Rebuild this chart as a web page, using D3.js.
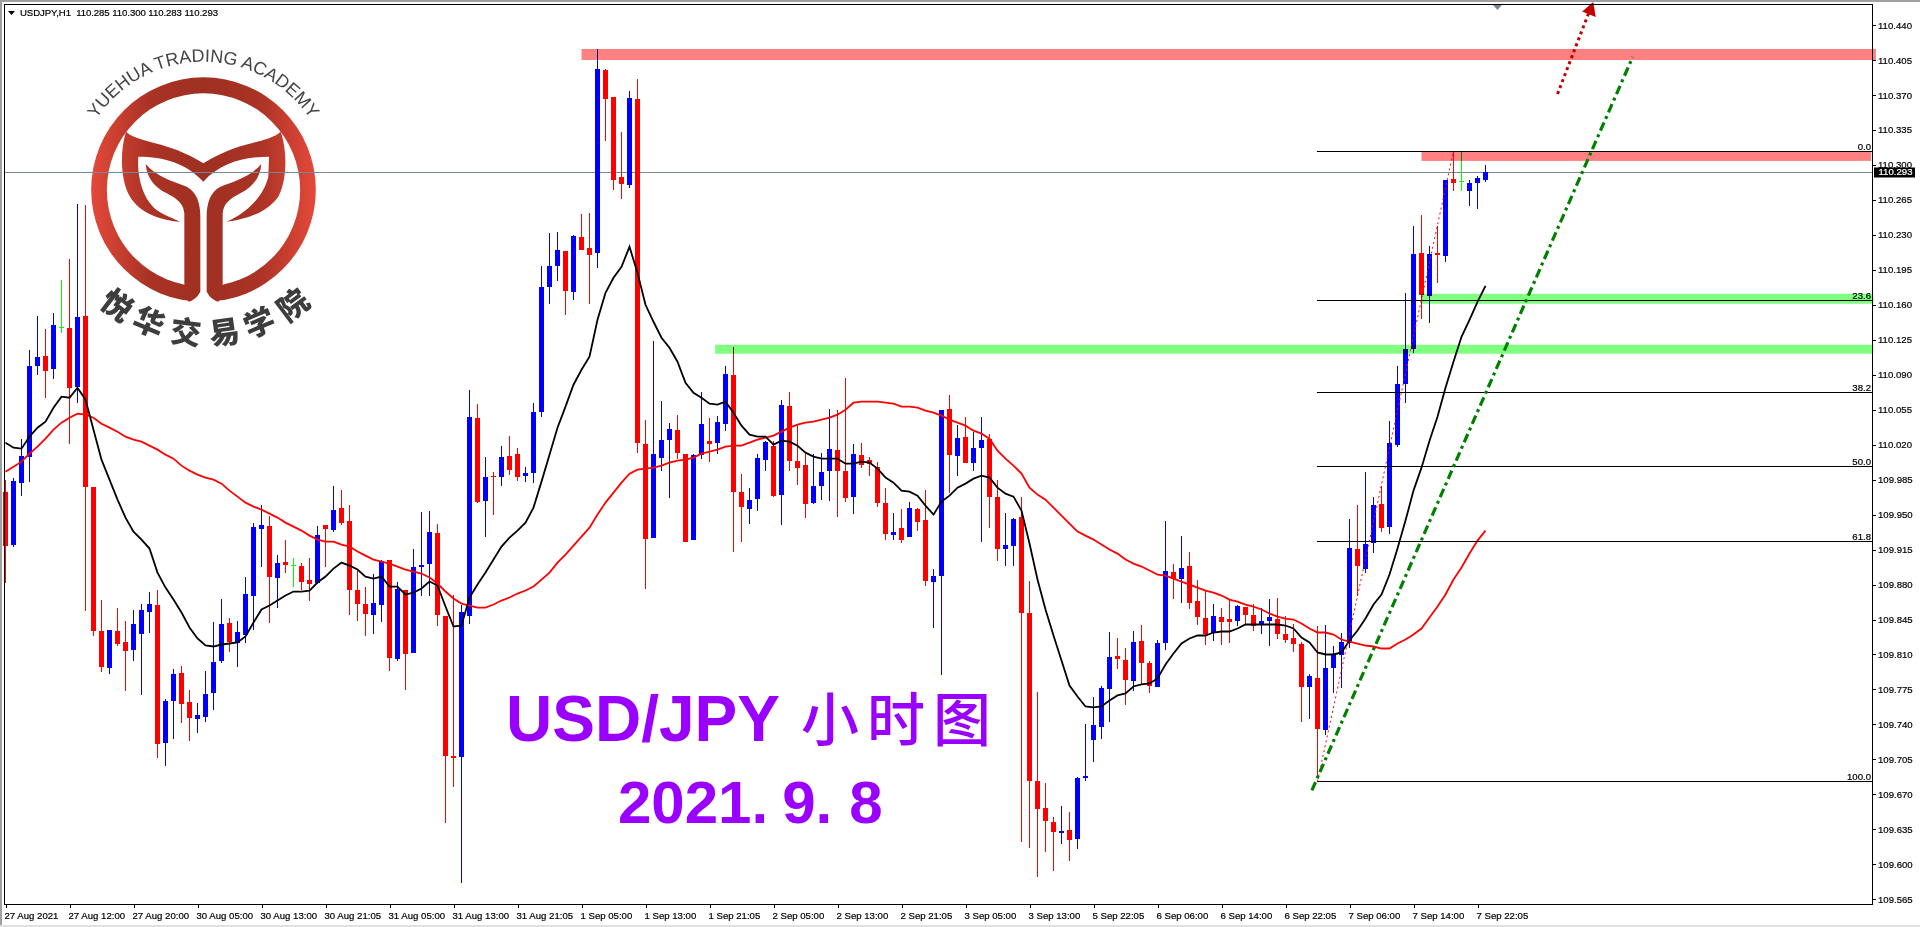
<!doctype html>
<html>
<head>
<meta charset="UTF-8">
<title>USDJPY H1</title>
<script src="https://d3js.org/d3.v7.min.js"></script>
<style>
  html, body { margin: 0; padding: 0; background: #fff; overflow: hidden; }
  svg { display: block; }
  .small { font-family: "Liberation Sans", sans-serif; font-size: 9.6px; fill: #000; stroke: #000; stroke-width: 0.2px; }
  .axis text { font-family: "Liberation Sans", sans-serif; font-size: 9.6px; fill: #000; stroke: #000; stroke-width: 0.2px; }
  .axis line { stroke: #000; shape-rendering: crispEdges; }
</style>
</head>
<body>
<svg id="chart" width="1920" height="927"></svg>
<script>
// price data, one entry per hourly bar
var opens = [109.973,109.920,109.982,110.008,110.099,110.109,110.096,110.138,110.137,110.078,110.149,109.978,109.834,109.796,109.834,109.823,109.814,109.831,109.853,109.860,
109.721,109.763,109.791,109.762,109.745,109.747,109.771,109.803,109.842,109.822,109.830,109.869,109.936,109.939,109.887,109.903,109.900,109.899,109.885,109.882,
109.940,109.935,109.957,109.944,109.875,109.861,109.850,109.860,109.905,109.805,109.875,109.811,109.898,109.901,109.932,109.849,109.708,109.707,109.849,110.047,
109.964,109.989,109.988,110.009,110.011,109.989,109.992,110.053,110.178,110.199,110.214,110.173,110.228,110.217,110.212,110.395,110.368,110.288,110.280,110.366,
110.021,109.927,110.007,110.025,110.035,110.011,109.925,110.010,110.024,110.022,110.041,110.090,109.973,109.956,109.966,110.005,110.019,109.970,110.059,110.004,
110.000,109.962,109.979,109.994,110.015,109.994,109.968,110.010,110.005,109.998,109.962,109.930,109.937,109.928,109.956,109.945,109.883,109.889,110.056,110.009,
110.028,110.002,110.017,110.026,109.968,109.916,109.919,109.948,109.852,109.683,109.656,109.642,109.631,109.634,109.625,109.686,109.724,109.737,109.775,109.808,
109.804,109.783,109.824,109.801,109.777,109.822,109.893,109.886,109.899,109.864,109.847,109.832,109.848,109.846,109.844,109.858,109.850,109.840,109.844,109.846,
109.831,109.827,109.821,109.777,109.786,109.734,109.796,109.809,109.822,109.916,109.896,109.922,109.961,109.938,110.020,110.081,110.116,110.212,110.169,110.212,
110.209,110.286,110.284,110.274,110.282,110.285];
var highs = [109.985,109.987,110.026,110.115,110.149,110.136,110.152,110.185,110.206,110.261,110.260,109.978,109.865,109.835,109.857,109.844,109.855,109.861,109.873,109.875,
109.765,109.795,109.798,109.774,109.761,109.793,109.843,109.866,109.847,109.844,109.888,109.942,109.960,109.949,109.910,109.925,109.907,109.902,109.907,109.939,
109.940,109.979,109.975,109.960,109.895,109.878,109.891,109.905,109.905,109.883,109.875,109.916,109.953,109.954,109.941,109.849,109.870,109.860,110.075,110.061,
110.008,109.993,110.019,110.029,110.017,109.998,110.062,110.199,110.232,110.233,110.214,110.230,110.251,110.252,110.416,110.396,110.368,110.333,110.374,110.386,
110.045,110.124,110.064,110.042,110.050,110.011,110.011,110.073,110.047,110.049,110.099,110.118,109.991,109.977,110.011,110.024,110.024,110.065,110.073,110.040,
110.011,110.011,110.012,110.056,110.055,110.087,110.021,110.022,110.008,110.003,109.977,109.952,109.956,109.963,109.957,109.975,109.896,110.055,110.070,110.040,
110.048,110.033,110.048,110.031,109.985,109.952,109.947,109.968,109.884,109.772,109.681,109.647,109.658,109.652,109.687,109.740,109.767,109.778,109.833,109.827,
109.817,109.834,109.840,109.803,109.825,109.944,109.901,109.929,109.913,109.885,109.874,109.861,109.857,109.865,109.860,109.858,109.861,109.857,109.866,109.867,
109.849,109.841,109.823,109.790,109.839,109.840,109.819,109.832,109.946,109.960,109.993,109.968,109.979,110.044,110.099,110.172,110.239,110.250,110.219,110.239,
110.285,110.313,110.313,110.285,110.289,110.300];
var lows = [109.882,109.918,109.969,109.983,110.090,110.067,110.086,110.132,110.021,110.062,109.854,109.829,109.792,109.790,109.819,109.773,109.803,109.769,109.832,109.706,
109.698,109.725,109.741,109.723,109.731,109.742,109.754,109.801,109.812,109.797,109.822,109.835,109.898,109.842,109.857,109.892,109.878,109.875,109.864,109.881,
109.898,109.933,109.940,109.850,109.844,109.829,109.831,109.843,109.793,109.803,109.774,109.811,109.869,109.869,109.839,109.641,109.677,109.581,109.841,109.962,
109.928,109.950,109.979,109.990,109.984,109.983,109.982,110.048,110.161,110.184,110.150,110.165,110.215,110.161,110.197,110.324,110.275,110.266,110.277,110.012,
109.876,109.927,109.994,109.967,110.006,109.923,109.925,110.006,110.003,110.011,110.034,109.913,109.923,109.941,109.954,109.994,109.968,109.940,109.994,109.980,
109.947,109.961,109.965,109.964,109.948,109.963,109.951,109.997,109.989,109.958,109.925,109.925,109.922,109.928,109.934,109.879,109.837,109.789,109.972,109.989,
110.002,109.994,109.923,109.937,109.904,109.899,109.899,109.622,109.616,109.587,109.612,109.593,109.620,109.603,109.615,109.683,109.702,109.725,109.742,109.795,
109.759,109.773,109.780,109.771,109.777,109.814,109.866,109.862,109.856,109.840,109.820,109.824,109.820,109.822,109.839,109.841,109.834,109.831,109.819,109.826,
109.822,109.812,109.742,109.745,109.688,109.729,109.771,109.776,109.817,109.869,109.892,109.912,109.933,109.931,110.018,110.062,110.112,110.146,110.142,110.182,
110.203,110.274,110.274,110.259,110.256,110.283];
var closes = [109.919,109.984,110.009,110.099,110.108,110.094,110.140,110.138,110.077,110.148,109.978,109.834,109.797,109.835,109.821,109.813,109.841,109.855,109.861,109.720,
109.763,109.790,109.760,109.746,109.749,109.770,109.802,109.841,109.823,109.833,109.871,109.938,109.940,109.888,109.902,109.900,109.900,109.883,109.881,109.930,
109.936,109.955,109.942,109.875,109.861,109.851,109.862,109.904,109.806,109.876,109.810,109.898,109.900,109.933,109.850,109.708,109.706,109.853,110.048,109.963,
109.988,109.988,110.008,109.995,109.988,109.992,110.053,110.178,110.199,110.215,110.174,110.229,110.215,110.210,110.396,110.366,110.285,110.281,110.367,110.022,
109.926,110.011,110.025,110.036,110.012,109.923,110.010,110.041,110.021,110.043,110.091,109.973,109.958,109.965,110.007,110.023,109.969,110.060,110.004,109.997,
109.961,109.979,109.993,110.016,109.994,109.967,110.011,110.000,110.001,109.962,109.931,109.933,109.925,109.957,109.943,109.884,109.889,110.055,110.010,110.027,
110.002,110.017,110.025,109.968,109.916,109.920,109.946,109.852,109.683,109.655,109.643,109.632,109.633,109.624,109.686,109.688,109.739,109.776,109.807,109.805,
109.784,109.823,109.801,109.778,109.822,109.894,109.886,109.897,109.862,109.848,109.831,109.849,109.843,109.843,109.859,109.850,109.839,109.844,109.848,109.831,
109.825,109.821,109.777,109.788,109.735,109.796,109.810,109.823,109.917,109.899,109.921,109.960,109.937,110.022,110.081,110.116,110.211,110.170,110.211,110.210,
110.285,110.282,110.284,110.282,110.287,110.293];

// the two moving averages
var maBlack = [110.022,110.017,110.016,110.028,110.037,110.043,110.057,110.068,110.067,110.077,110.065,110.035,110.005,109.985,109.965,109.947,109.933,109.925,109.916,109.892,
109.877,109.865,109.852,109.837,109.826,109.819,109.818,109.820,109.821,109.822,109.828,109.842,109.855,109.859,109.864,109.869,109.873,109.873,109.874,109.882,
109.888,109.896,109.902,109.899,109.895,109.888,109.886,109.888,109.878,109.878,109.870,109.872,109.876,109.883,109.879,109.858,109.838,109.839,109.867,109.880,
109.892,109.905,109.918,109.927,109.934,109.942,109.957,109.983,110.010,110.037,110.058,110.080,110.095,110.108,110.145,110.172,110.187,110.198,110.218,110.192,
110.160,110.143,110.127,110.117,110.103,110.082,110.072,110.067,110.061,110.060,110.063,110.052,110.039,110.030,110.028,110.028,110.020,110.024,110.023,110.019,
110.012,110.008,110.006,110.006,110.006,110.001,110.001,110.003,110.002,109.996,109.987,109.982,109.974,109.973,109.969,109.959,109.950,109.963,109.969,109.977,
109.981,109.986,109.989,109.987,109.977,109.971,109.968,109.954,109.921,109.885,109.855,109.829,109.804,109.779,109.768,109.758,109.757,109.758,109.764,109.769,
109.771,109.778,109.780,109.781,109.786,109.800,109.811,109.821,109.826,109.829,109.829,109.832,109.833,109.833,109.836,109.840,109.840,109.840,109.840,109.840,
109.839,109.836,109.827,109.822,109.812,109.810,109.810,109.812,109.824,109.834,109.846,109.860,109.870,109.890,109.916,109.944,109.974,109.997,110.024,110.048,
110.077,110.103,110.128,110.145,110.163,110.179];
var maRed = [109.993,109.998,110.003,110.011,110.018,110.026,110.035,110.042,110.047,110.051,110.050,110.047,110.041,110.037,110.033,110.028,110.025,110.023,110.019,110.015,
110.010,110.006,109.999,109.994,109.990,109.987,109.985,109.981,109.974,109.968,109.962,109.958,109.955,109.951,109.947,109.942,109.938,109.934,109.929,109.925,
109.923,109.923,109.920,109.918,109.913,109.909,109.905,109.903,109.901,109.898,109.895,109.893,109.891,109.887,109.881,109.873,109.866,109.861,109.859,109.857,
109.857,109.860,109.864,109.867,109.871,109.874,109.878,109.885,109.892,109.902,109.910,109.919,109.928,109.937,109.950,109.962,109.972,109.982,109.991,109.995,
109.996,109.997,109.999,110.002,110.004,110.005,110.007,110.011,110.013,110.015,110.018,110.019,110.019,110.022,110.025,110.027,110.029,110.033,110.037,110.040,
110.042,110.043,110.045,110.047,110.050,110.055,110.062,110.063,110.063,110.063,110.062,110.061,110.058,110.058,110.057,110.054,110.052,110.049,110.045,110.042,
110.039,110.034,110.031,110.026,110.014,110.006,109.999,109.991,109.977,109.970,109.965,109.957,109.949,109.941,109.933,109.929,109.925,109.920,109.915,109.911,
109.905,109.901,109.898,109.894,109.890,109.889,109.886,109.883,109.880,109.877,109.874,109.872,109.869,109.865,109.863,109.860,109.858,109.855,109.851,109.848,
109.846,109.845,109.841,109.836,109.832,109.832,109.830,109.825,109.823,109.821,109.819,109.818,109.816,109.816,109.821,109.825,109.830,109.836,109.847,109.858,
109.870,109.885,109.897,109.911,109.924,109.934];

// axis labels
var yTicks = [110.440,110.405,110.370,110.335,110.300,110.265,110.230,110.195,110.160,110.125,110.090,110.055,110.020,
  109.985,109.950,109.915,109.880,109.845,109.810,109.775,109.740,109.705,109.670,109.635,109.600,109.565];
var xTickBars = [0,8,16,24,32,40,48,56,64,72,80,88,96,104,112,120,128,136,144,152,160,168,176,184];
var xTickLabels = ["27 Aug 2021","27 Aug 12:00","27 Aug 20:00","30 Aug 05:00","30 Aug 13:00","30 Aug 21:05","31 Aug 05:00","31 Aug 13:00",
  "31 Aug 21:05","1 Sep 05:00","1 Sep 13:00","1 Sep 21:05","2 Sep 05:00","2 Sep 13:00","2 Sep 21:05","3 Sep 05:00","3 Sep 13:00",
  "5 Sep 22:05","6 Sep 06:00","6 Sep 14:00","6 Sep 22:05","7 Sep 06:00","7 Sep 14:00","7 Sep 22:05"];

// hand drawn objects on the chart: bar from, bar to, price top, price bottom, colour
var zoneFrom = [72, 177, 88.7, 177];
var zoneTo = [233.8, 233.2, 233.5, 233.5];
var zoneTop = [110.416, 110.313, 110.120, 110.171];
var zoneBottom = [110.405, 110.304, 110.111, 110.161];
var zoneColor = ["#ff8080", "#ff8080", "#80ff80", "#80ff80"];

var fibHigh = 110.314, fibLow = 109.683, fibFromBar = 164, fibToBar = 181;
var fibLevels = [0, 23.6, 38.2, 50, 61.8, 100];
var fibNames = ["0.0", "23.6", "38.2", "50.0", "61.8", "100.0"];

var trendBars = [163.3, 203.4], trendPrices = [109.674, 110.408];
var arrowBars = [194, 197.9], arrowPrices = [110.371, 110.452];
var lastPrice = 110.293;

var svg = d3.select("#chart");
var x = d3.scaleLinear().domain([0, 185]).range([5.5, 1485.5]);
var y = d3.scaleLinear().domain([110.440, 109.565]).range([25, 899.3]);
var plotLeft = 4.5, plotTop = 4.5, plotRight = 1872.5, plotBottom = 904.5;

// window frame
svg.append("rect").attr("width", 1920).attr("height", 2).attr("fill", "#a0a0a0");
svg.append("rect").attr("width", 2).attr("height", 925).attr("fill", "#a0a0a0");
svg.append("rect").attr("y", 925).attr("width", 1920).attr("height", 2).attr("fill", "#e0e0e0");

// logo is drawn in 3x coordinates
var defs = svg.append("defs");
var grad = defs.append("linearGradient").attr("id", "logoGrad").attr("gradientUnits", "userSpaceOnUse")
  .attr("x1", 274).attr("y1", 0).attr("x2", 947).attr("y2", 0);
grad.append("stop").attr("offset", "0").attr("stop-color", "#e4493a");
grad.append("stop").attr("offset", "0.25").attr("stop-color", "#ab3325");
grad.append("stop").attr("offset", "0.5").attr("stop-color", "#9e3022");
grad.append("stop").attr("offset", "0.75").attr("stop-color", "#ab3325");
grad.append("stop").attr("offset", "1").attr("stop-color", "#e4493a");
defs.append("path").attr("id", "logoArc").attr("d", "M225,570 A385,385 0 0 1 995,570");

var tail = "M378,395 C420,432 500,420 610,490 C720,420 800,432 842,395 C862,450 862,540 835,590 C800,640 730,660 680,665 " +
  "C740,640 790,590 805,530 L807,470 C730,470 660,490 610,545 C560,490 490,470 415,470 C410,530 430,600 470,630 C490,645 520,655 540,665 " +
  "C480,660 420,640 390,590 C360,540 360,450 378,395 Z";
var stemL = "M437,492 C470,530 520,545 560,560 C590,575 601,610 601,650 L601,875 Q588,900 565,905 L553,853 L553,640 C550,610 530,595 500,580 C460,560 440,530 437,492 Z";
var stemR = "M784,492 C751,530 701,545 661,560 C631,575 620,610 620,650 L620,875 Q633,900 656,905 L668,853 L668,640 C671,610 691,595 721,580 C761,560 781,530 784,492 Z";

var logo = svg.append("g").attr("transform", "scale(0.33333)");
logo.append("circle").attr("cx", 610.5).attr("cy", 569).attr("r", 337).attr("fill", "url(#logoGrad)");
logo.append("circle").attr("cx", 610.5).attr("cy", 570).attr("r", 290).attr("fill", "#fff");
logo.append("rect").attr("x", 565).attr("y", 853).attr("width", 91).attr("height", 60).attr("fill", "#fff");
logo.append("path").attr("d", tail).attr("fill", "url(#logoGrad)");
logo.append("path").attr("d", stemL).attr("fill", "url(#logoGrad)");
logo.append("path").attr("d", stemR).attr("fill", "url(#logoGrad)");
logo.append("text").attr("font-family", "Liberation Sans").attr("font-size", 54).attr("fill", "#444")
  .append("textPath").attr("href", "#logoArc").attr("startOffset", "50%").attr("text-anchor", "middle")
  .text("YUEHUA TRADING ACADEMY");
var logoChars = ["悦", "华", "交", "易", "学", "院"];
var logoCharX = [355, 450, 558, 672, 775, 875];
var logoCharY = [910, 960, 990, 990, 962, 910];
var logoCharA = [37, 23, 7, -8, -23, -37];
logoChars.forEach(function(c, i) {
  logo.append("text").text(c)
    .attr("transform", "translate(" + logoCharX[i] + "," + logoCharY[i] + ") rotate(" + logoCharA[i] + ")")
    .attr("text-anchor", "middle").attr("dominant-baseline", "central")
    .attr("font-family", "Noto Sans CJK SC").attr("font-weight", 900).attr("font-size", 92).attr("fill", "#3d3d3d");
});

// last price line sits behind the bars
svg.append("line").attr("x1", plotLeft).attr("x2", plotRight).attr("y1", Math.round(y(lastPrice)) + 0.5).attr("y2", Math.round(y(lastPrice)) + 0.5)
  .attr("stroke", "#778899").attr("stroke-width", 1).attr("shape-rendering", "crispEdges");

// candles
var bars = d3.range(opens.length);
function barColor(i) {
  if (closes[i] > opens[i]) return "#0000ff";
  if (closes[i] < opens[i]) return "#ff0000";
  return "#00ff00";
}
var candle = svg.append("g").attr("shape-rendering", "crispEdges");
candle.selectAll(".wick").data(bars).enter().append("rect").attr("class", "wick")
  .attr("x", function(i) { return x(i) - 0.5; })
  .attr("width", 1)
  .attr("y", function(i) { return Math.round(y(highs[i])); })
  .attr("height", function(i) { return Math.max(1, Math.round(y(lows[i])) - Math.round(y(highs[i]))); })
  .attr("fill", barColor);
candle.selectAll(".body").data(bars.filter(function(i) { return opens[i] != closes[i]; })).enter().append("rect").attr("class", "body")
  .attr("x", function(i) { return x(i) - 2.5; })
  .attr("width", 5)
  .attr("y", function(i) { return Math.round(y(Math.max(opens[i], closes[i]))); })
  .attr("height", function(i) { return Math.max(1, Math.round(y(Math.min(opens[i], closes[i]))) - Math.round(y(Math.max(opens[i], closes[i])))); })
  .attr("fill", barColor);
// doji is only a short dash
candle.selectAll(".doji").data(bars.filter(function(i) { return opens[i] == closes[i]; })).enter().append("rect").attr("class", "doji")
  .attr("x", function(i) { return x(i) - 2.5; })
  .attr("width", 5)
  .attr("y", function(i) { return Math.round(y(opens[i])); })
  .attr("height", 1)
  .attr("fill", barColor);

// moving averages
var line = d3.line().x(function(d, i) { return x(i); }).y(function(d) { return y(d); });
svg.append("path").attr("d", line(maRed)).attr("fill", "none").attr("stroke", "#ff0000").attr("stroke-width", 1.8);
svg.append("path").attr("d", line(maBlack)).attr("fill", "none").attr("stroke", "#000").attr("stroke-width", 1.8);

// zones multiply over the bars, that is how the terminal paints them
svg.selectAll(".zone").data(d3.range(zoneFrom.length)).enter().append("rect").attr("class", "zone")
  .attr("x", function(i) { return x(zoneFrom[i]); })
  .attr("width", function(i) { return x(zoneTo[i]) - x(zoneFrom[i]); })
  .attr("y", function(i) { return y(zoneTop[i]); })
  .attr("height", function(i) { return y(zoneBottom[i]) - y(zoneTop[i]); })
  .attr("fill", function(i) { return zoneColor[i]; })
  .style("mix-blend-mode", "multiply");

// fibonacci retracement
function fibPrice(level) { return fibHigh - (fibHigh - fibLow) * level / 100; }
fibLevels.forEach(function(level, i) {
  var py = Math.round(y(fibPrice(level))) + 0.5;
  svg.append("line").attr("x1", x(fibFromBar) - 0.5).attr("x2", plotRight).attr("y1", py).attr("y2", py)
    .attr("stroke", "#000").attr("stroke-width", 1).attr("shape-rendering", "crispEdges");
  svg.append("text").attr("class", "small").attr("x", 1871).attr("y", py - 2).attr("text-anchor", "end").text(fibNames[i]);
});
svg.append("line").attr("x1", x(fibFromBar)).attr("y1", y(fibLow)).attr("x2", x(fibToBar)).attr("y2", y(fibHigh))
  .attr("stroke", "#ff0000").attr("stroke-width", 1).attr("stroke-dasharray", "2,3");

// green trend line
svg.append("line").attr("x1", x(trendBars[0])).attr("y1", y(trendPrices[0])).attr("x2", x(trendBars[1])).attr("y2", y(trendPrices[1]))
  .attr("stroke", "#008000").attr("stroke-width", 3.2).attr("stroke-dasharray", "9,4,3,4");

// red arrow going up
var ax0 = x(arrowBars[0]), ay0 = y(arrowPrices[0]), ax1 = x(arrowBars[1]), ay1 = y(arrowPrices[1]);
svg.append("line").attr("x1", ax0).attr("y1", ay0).attr("x2", ax1).attr("y2", ay1)
  .attr("stroke", "#c00000").attr("stroke-width", 3).attr("stroke-dasharray", "3,3.4");
svg.append("path").attr("fill", "#c00000")
  .attr("d", "M" + (ax1 + 4.5) + "," + (ay1 - 11) + "L" + (ax1 + 7) + "," + (ay1 + 4) + "L" + (ax1 - 6.5) + "," + (ay1 - 1.5) + "Z");

// plot border
svg.append("rect").attr("x", plotLeft).attr("y", plotTop).attr("width", plotRight - plotLeft).attr("height", plotBottom - plotTop)
  .attr("fill", "none").attr("stroke", "#000").attr("stroke-width", 1).attr("shape-rendering", "crispEdges");

// chart shift marker
svg.append("path").attr("d", "M1493,5 L1502,5 L1497.5,10 Z").attr("fill", "#778899");

// axes
var yAxis = svg.append("g").attr("class", "axis").attr("transform", "translate(" + plotRight + ",0)")
  .call(d3.axisRight(y).tickValues(yTicks).tickFormat(d3.format(".3f")).tickSize(3.5).tickPadding(2));
yAxis.select(".domain").remove();
var xAxis = svg.append("g").attr("class", "axis").attr("transform", "translate(0," + plotBottom + ")")
  .call(d3.axisBottom(x).tickValues(xTickBars).tickFormat(function(d, i) { return xTickLabels[i]; }).tickSize(3.5).tickPadding(4));
xAxis.select(".domain").remove();
xAxis.selectAll("text").attr("text-anchor", "start").attr("dx", -1.5);

// last price tag
svg.append("rect").attr("x", 1874).attr("y", 167.5).attr("width", 41).attr("height", 10).attr("fill", "#000");
svg.append("text").attr("class", "small").attr("x", 1878.5).attr("y", y(lastPrice) + 3.6).style("fill", "#fff").style("stroke", "#fff").text(d3.format(".3f")(lastPrice));

// header
svg.append("path").attr("d", "M8,11 L15,11 L11.5,15 Z").attr("fill", "#000");
svg.append("text").attr("class", "small").attr("x", 20).attr("y", 16).attr("xml:space", "preserve").attr("textLength", 198)
  .text("USDJPY,H1  110.285 110.300 110.283 110.293");

// big captions
var cap = svg.append("g").attr("fill", "#9900ff").attr("font-family", "Liberation Sans").attr("font-weight", "bold");
cap.append("text").attr("x", 506).attr("y", 741).attr("font-size", 64).text("USD/JPY");
cap.append("text").attr("x", 801).attr("y", 741).attr("font-size", 58).attr("letter-spacing", 8)
  .attr("font-family", "Noto Sans CJK SC").attr("font-weight", 500).text("小时图");
var dateText = cap.append("text").attr("x", 618).attr("y", 823).attr("font-size", 60);
dateText.append("tspan").text("2021.");
dateText.append("tspan").attr("dx", 14).text("9.");
dateText.append("tspan").attr("dx", 17).text("8");
</script>
</body>
</html>
